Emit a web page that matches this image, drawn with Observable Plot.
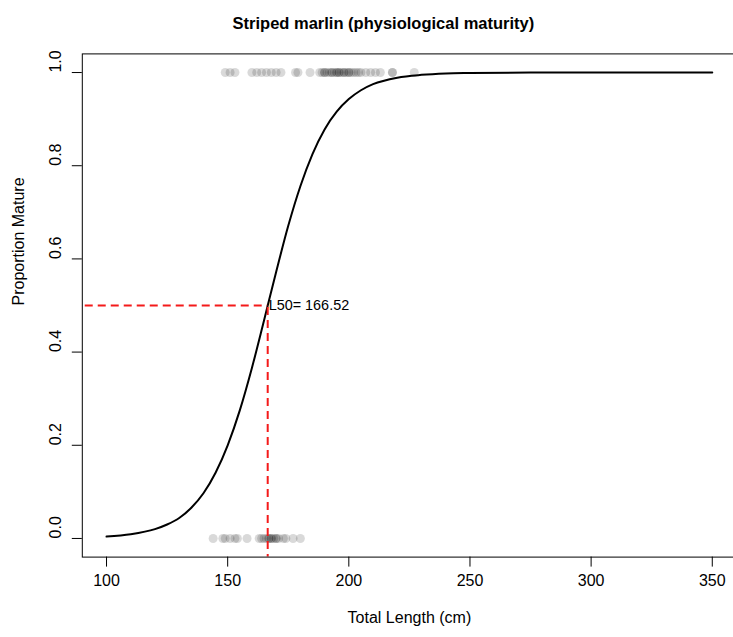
<!DOCTYPE html>
<html>
<head>
<meta charset="utf-8">
<script src="https://cdn.jsdelivr.net/npm/d3@7"></script>
<script src="https://cdn.jsdelivr.net/npm/@observablehq/plot@0.6"></script>
<style>
  html, body { margin: 0; padding: 0; background: #fff; overflow: hidden; }
</style>
</head>
<body>
<div id="chart"></div>
<script>
const titleText = "Striped marlin (physiological maturity)";
const xLabel = "Total Length (cm)";
const yLabel = "Proportion Mature";
const L50 = 166.52;

const xTicks = [100, 150, 200, 250, 300, 350];
const yTicks = [0, 0.2, 0.4, 0.6, 0.8, 1.0];

// fitted maturity curve
const curveLength = [100, 110, 120, 125, 130, 135, 140, 145, 150, 155, 160, 165, 170, 175, 180, 185, 190, 195, 200, 205, 210, 220, 230, 240, 250, 275, 300, 350];
const curveProp   = [0.004, 0.009, 0.020, 0.030, 0.044, 0.066, 0.097, 0.141, 0.200, 0.275, 0.366, 0.468, 0.572, 0.671, 0.756, 0.825, 0.878, 0.916, 0.943, 0.962, 0.975, 0.989, 0.995, 0.998, 0.999, 1.0, 1.0, 1.0];

// observed fish lengths (cm)
const matureLengths = [149, 151, 153, 160, 162, 164, 166, 168, 170, 172, 178, 179, 184, 188, 189, 190, 190, 191, 192, 193, 193, 194, 195, 195, 196, 196, 197, 198, 198, 199, 200, 200, 201, 202, 203, 204, 205, 207, 209, 211, 213, 218, 218, 227];
const immatureLengths = [144, 148, 149, 151, 153, 154, 158, 163, 164, 165, 166, 167, 167, 168, 168, 169, 170, 170, 171, 173, 174, 177, 180];

const curve = curveLength.map((x, i) => ({x, y: curveProp[i]}));
const points = [
  ...matureLengths.map(x => ({x, y: 1})),
  ...immatureLengths.map(x => ({x, y: 0}))
];

const font = "'Liberation Sans', Arial, Helvetica, sans-serif";
const red = "#f41a1a";

const chart = Plot.plot({
  width: 733,
  height: 637,
  marginLeft: 81.8,
  marginRight: -3,
  marginTop: 53.4,
  marginBottom: 80.4,
  style: {fontFamily: font, fontSize: "16px", color: "#000", background: "#fff", overflow: "hidden"},
  x: {domain: [90, 360], axis: null},
  y: {domain: [-0.04, 1.04], axis: null},
  marks: [
    Plot.dot(points, {x: "x", y: "y", r: 4.5, fill: "#000", fillOpacity: 0.15, stroke: "none"}),
    Plot.line(curve, {x: "x", y: "y", stroke: "#000", strokeWidth: 2, curve: "monotone-x"}),
    Plot.ruleY([0.5], {x1: () => 0, x2: () => L50, stroke: red, strokeWidth: 2, strokeDasharray: "8,5", clip: true}),
    Plot.ruleX([L50], {y1: () => -1, y2: () => 0.5, stroke: red, strokeWidth: 2, strokeDasharray: "8,5", clip: true}),
    Plot.text([L50], {x: d => d, y: () => 0.5, text: d => "L50= " + d.toFixed(2), textAnchor: "start", dx: 1, fontSize: 14.4, fill: "#000"}),
    Plot.frame({stroke: "#000", strokeWidth: 1}),
    Plot.axisX({ticks: xTicks, tickSize: 10, tickPadding: 8, fontSize: 16, label: null, tickFormat: d => String(d), stroke: "#000"}),
    Plot.axisY({ticks: yTicks, tickSize: 10, tickFormat: () => "", label: null, stroke: "#000"}),
    Plot.text(yTicks, {y: d => d, text: d => d.toFixed(1), frameAnchor: "left", dx: -26, rotate: -90, fontSize: 16, fill: "#000"}),
    Plot.text([yLabel], {text: d => d, frameAnchor: "left", dx: -63.8, rotate: -90, fontSize: 16, fill: "#000"}),
    Plot.text([xLabel], {text: d => d, frameAnchor: "bottom", dy: 65.5, fontSize: 16, fill: "#000"}),
    Plot.text([titleText], {text: d => d, frameAnchor: "top", dx: -26, dy: -36.5, fontSize: 16.5, fontWeight: "bold", fill: "#000"})
  ]
});
document.getElementById("chart").appendChild(chart);
</script>
</body>
</html>
